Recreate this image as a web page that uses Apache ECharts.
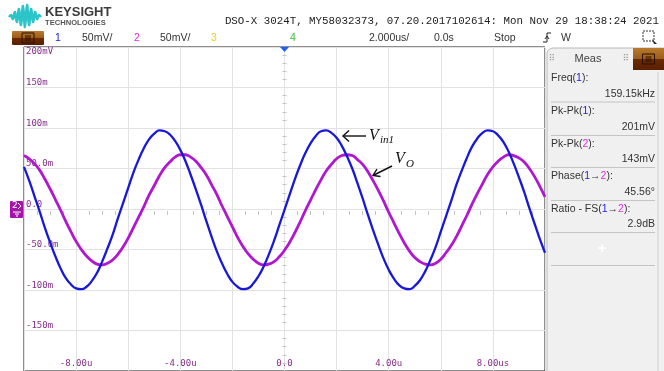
<!DOCTYPE html>
<html><head><meta charset="utf-8">
<script src="https://cdn.jsdelivr.net/npm/echarts@6/dist/echarts.min.js"></script>
<style>html,body{margin:0;padding:0;background:#fff;}#c{width:664px;height:371px;}</style>
</head><body><div id="c"></div>
<script>
// time in microseconds
const timeUs = [-10,-9.8,-9.6,-9.4,-9.2,-9,-8.8,-8.6,-8.4,-8.2,-8,-7.8,-7.6,-7.4,-7.2,-7,-6.8,-6.6,-6.4,-6.2,-6,-5.8,-5.6,-5.4,-5.2,-5,-4.8,-4.6,-4.4,-4.2,-4,-3.8,-3.6,-3.4,-3.2,-3,-2.8,-2.6,-2.4,-2.2,-2,-1.8,-1.6,-1.4,-1.2,-1,-0.8,-0.6,-0.4,-0.2,0,0.2,0.4,0.6,0.8,1,1.2,1.4,1.6,1.8,2,2.2,2.4,2.6,2.8,3,3.2,3.4,3.6,3.8,4,4.2,4.4,4.6,4.8,5,5.2,5.4,5.6,5.8,6,6.2,6.4,6.6,6.8,7,7.2,7.4,7.6,7.8,8,8.2,8.4,8.6,8.8,9,9.2,9.4,9.6,9.8,10];
// channel 1 (Vin1), mV
const vin1mV = [52,35,16,-3,-23,-41,-58,-73,-85,-93,-98,-99,-96,-89,-79,-65,-49,-32,-12,7,26,45,61,75,86,93,97,96,92,84,73,59,42,24,5,-15,-34,-52,-67,-80,-90,-96,-99,-98,-92,-83,-71,-56,-39,-20,-1,18,37,54,69,81,90,96,97,94,88,78,65,50,32,13,-7,-26,-44,-61,-75,-86,-94,-98,-99,-95,-88,-77,-63,-47,-28,-9,10,30,47,63,77,87,94,97,96,91,83,71,56,39,21,1,-18,-37,-54];
// channel 2 (VO), mV
const voutmV = [66,62,56,48,37,25,12,-1,-15,-28,-40,-50,-58,-64,-68,-69,-67,-63,-56,-47,-36,-23,-10,3,17,29,41,51,58,64,67,67,64,59,51,42,30,18,4,-9,-22,-35,-46,-55,-62,-67,-69,-68,-65,-59,-51,-41,-29,-16,-2,11,24,36,47,55,62,66,67,66,61,55,46,35,23,10,-4,-17,-30,-42,-52,-60,-65,-68,-69,-67,-62,-54,-45,-34,-21,-8,6,19,31,43,52,59,64,67,66,63,58,50,40,28,15];
const yTickValues = [-150,-100,-50,0,50,100,150,200];
const yTickLabels = ['-150m','-100m','-50.0m','0.0','50.0m','100m','150m','200mV'];
const xTickValues = [-8,-4,0,4,8];
const xTickLabels = ['-8.00u','-4.00u','0.0','4.00u','8.00us'];
const titleText = 'DSO-X 3024T, MY58032373, 07.20.2017102614: Mon Nov 29 18:38:24 2021';
const measLabels = ['{a|Freq(}{b|1}{a|):}','{a|Pk-Pk(}{b|1}{a|):}','{a|Pk-Pk(}{m|2}{a|):}','{a|Phase(}{b|1}{a|→}{m|2}{a|):}','{a|Ratio - FS(}{b|1}{a|→}{m|2}{a|):}'];
const measValues = ['159.15kHz','201mV','143mV','45.56°','2.9dB'];

const BLUE = '#1818d8', PURPLE = '#b018d0', LBL = '#86308a';
const chart = echarts.init(document.getElementById('c'), null, {renderer:'canvas'});

function brownButton(x, y, w, h, r) {
  return [
    {type:'rect', shape:{x:x,y:y,width:w,height:h,r:r}, style:{fill:{type:'linear',x:0,y:0,x2:0,y2:1,colorStops:[{offset:0,color:'#b87a2c'},{offset:0.5,color:'#9c5c1c'},{offset:0.5,color:'#6c2a00'},{offset:1,color:'#5a2000'}]}}, z:10},
    {type:'rect', shape:{x:x+w/2-6,y:y+h/2-5,width:12,height:10}, style:{fill:'none',stroke:'#2a1000',lineWidth:1}, z:11},
    {type:'line', shape:{x1:x+w/2-3,y1:y+h/2-2,x2:x+w/2+3,y2:y+h/2-2}, style:{stroke:'#2a1000',lineWidth:1}, z:11},
    {type:'line', shape:{x1:x+w/2-3,y1:y+h/2,x2:x+w/2+3,y2:y+h/2}, style:{stroke:'#2a1000',lineWidth:1}, z:11},
    {type:'line', shape:{x1:x+w/2-3,y1:y+h/2+2,x2:x+w/2+3,y2:y+h/2+2}, style:{stroke:'#2a1000',lineWidth:1}, z:11}
  ];
}
function txt(x, y, text, opt) {
  return {type:'text', x:x, y:y, z:12, style:Object.assign({text:text, fill:'#333', font:'10.5px "Liberation Sans"', textVerticalAlign:'middle', textAlign:'left'}, opt||{})};
}

const graphics = [];
// logo
graphics.push({type:'polyline', z:12, shape:{points:[[9,17],[11,15],[13,19],[15,12],[17,22],[19,9],[21,25],[23,6],[25,27],[27,5],[29,25],[31,9],[33,22],[35,12],[37,19],[39,15],[41,17]], smooth:0.3}, style:{stroke:'#2bc4c8', lineWidth:2.6, fill:'none'}});
graphics.push(txt(45, 12, 'KEYSIGHT', {font:'bold 13px "Liberation Sans"', fill:'#3c3c3c'}));
graphics.push(txt(45, 23, 'TECHNOLOGIES', {font:'bold 7.6px "Liberation Sans"', fill:'#555'}));
graphics.push(txt(659, 21, titleText, {font:'10.8px "Liberation Mono"', fill:'#222', textAlign:'right'}));
// second row
brownButton(12, 31, 32, 14, 1).forEach(g=>graphics.push(g));
graphics.push(txt(58, 38, '1', {fill:'#2020e0', textAlign:'center'}));
graphics.push(txt(82, 38, '50mV/'));
graphics.push(txt(137, 38, '2', {fill:'#e030e0', textAlign:'center'}));
graphics.push(txt(160, 38, '50mV/'));
graphics.push(txt(214, 38, '3', {fill:'#e8d020', textAlign:'center'}));
graphics.push(txt(293, 38, '4', {fill:'#30c030', textAlign:'center'}));
graphics.push(txt(369, 38, '2.000us/'));
graphics.push(txt(434, 38, '0.0s'));
graphics.push(txt(494, 38, 'Stop'));
graphics.push({type:'polyline', z:12, shape:{points:[[543,42],[547,42],[547,33],[551,33]]}, style:{stroke:'#222',lineWidth:1,fill:'none'}});
graphics.push({type:'polyline', z:12, shape:{points:[[545,39],[547,36],[549,39]]}, style:{stroke:'#222',lineWidth:1,fill:'none'}});
graphics.push(txt(561, 38, 'W'));
graphics.push({type:'rect', z:12, shape:{x:643,y:31,width:11,height:10}, style:{fill:'none',stroke:'#333',lineWidth:1,lineDash:[2,1]}});
graphics.push({type:'polygon', z:12, shape:{points:[[652,39],[657,44],[654,44]]}, style:{fill:'#222'}});
// trigger marker
graphics.push({type:'polygon', z:20, shape:{points:[[280,47],[289,47],[284.5,52]]}, style:{fill:'#1e5cff'}});
// ch2 ground marker
graphics.push({type:'rect', z:12, shape:{x:10,y:201,width:13,height:17,r:1}, style:{fill:'#a414aa'}});
graphics.push(txt(12, 206, '2', {fill:'#fff', font:'9px "DejaVu Sans"'}));
graphics.push({type:'polyline', z:13, shape:{points:[[18,203],[21,206],[18,209]]}, style:{stroke:'#fff',lineWidth:1,fill:'none'}});
graphics.push({type:'line', z:13, shape:{x1:13,y1:212,x2:21,y2:212}, style:{stroke:'#fff',lineWidth:1}});
graphics.push({type:'line', z:13, shape:{x1:15,y1:214,x2:19,y2:214}, style:{stroke:'#fff',lineWidth:1}});
graphics.push({type:'line', z:13, shape:{x1:16,y1:216,x2:18,y2:216}, style:{stroke:'#fff',lineWidth:1}});
// meas panel
graphics.push({type:'rect', z:5, shape:{x:547,y:48,width:125,height:330,r:[6,0,0,0]}, style:{fill:'#f0f0f0',stroke:'#b8b8b8',lineWidth:1}});
graphics.push({type:'line', z:6, shape:{x1:658,y1:72,x2:658,y2:371}, style:{stroke:'#d0d0d0',lineWidth:1}});
graphics.push(txt(588, 59, 'Meas', {textAlign:'center', font:'11px "Liberation Sans"', fill:'#444'}));
graphics.push(txt(552, 59, '⠿', {textAlign:'center', font:'9px "DejaVu Sans"', fill:'#999'}));
graphics.push(txt(626, 59, '⠿', {textAlign:'center', font:'9px "DejaVu Sans"', fill:'#999'}));
brownButton(633, 48, 31, 22, [0,0,0,0]).forEach(g=>graphics.push(g));
const seps = [102, 135.5, 167.5, 200.5, 232.5];
const labY = [78, 111, 144, 176.5, 209.5];
const rich = {a:{fill:'#333', font:'10.5px "Liberation Sans"'}, b:{fill:'#2020e0', font:'10.5px "Liberation Sans"'}, m:{fill:'#e030e0', font:'10.5px "Liberation Sans"'}};
for (let i = 0; i < measLabels.length; i++) {
  graphics.push({type:'text', x:551, y:labY[i], z:12, style:{text:measLabels[i], rich:rich, textVerticalAlign:'middle', textAlign:'left', font:'10.5px "Liberation Sans"'}});
  graphics.push(txt(655, seps[i]-8, measValues[i], {textAlign:'right'}));
  graphics.push({type:'line', z:12, shape:{x1:551,y1:seps[i],x2:655,y2:seps[i]}, style:{stroke:'#c4c4c4',lineWidth:1}});
}
graphics.push(txt(602, 249, '+', {textAlign:'center', font:'bold 14px "Liberation Sans"', fill:'#fff'}));
graphics.push({type:'line', z:12, shape:{x1:551,y1:265.5,x2:655,y2:265.5}, style:{stroke:'#c4c4c4',lineWidth:1}});
// annotations
graphics.push({type:'line', z:30, shape:{x1:366,y1:136,x2:343,y2:136}, style:{stroke:'#111',lineWidth:1.4}});
graphics.push({type:'polyline', z:30, shape:{points:[[349,130.5],[343,136],[349,141.5]]}, style:{stroke:'#111',lineWidth:1.4,fill:'none'}});
graphics.push(txt(369, 136, 'V', {font:'italic 16px "Liberation Serif"', fill:'#111'}));
graphics.push(txt(380, 140, 'in1', {font:'italic 11px "Liberation Serif"', fill:'#111'}));
graphics.push({type:'line', z:30, shape:{x1:392,y1:166,x2:374,y2:175}, style:{stroke:'#111',lineWidth:1.4}});
graphics.push({type:'polyline', z:30, shape:{points:[[377,169],[373,175.5],[380.5,176.5]]}, style:{stroke:'#111',lineWidth:1.4,fill:'none'}});
graphics.push(txt(395, 158.5, 'V', {font:'italic 16px "Liberation Serif"', fill:'#111'}));
graphics.push(txt(406, 164, 'O', {font:'italic 11px "Liberation Serif"', fill:'#111'}));

const labelFont = {fontFamily:'DejaVu Sans Mono', fontSize:9, color:LBL};
const option = {
  animation:false,
  backgroundColor:'#fff',
  grid:{left:24, top:47, right:119, bottom:0, show:true, borderColor:'#1a1a1a', borderWidth:1, backgroundColor:'#fff'},
  xAxis:[
    {type:'value', min:-10, max:10, interval:2, position:'bottom',
     axisLine:{show:false}, axisTick:{show:false},
     splitLine:{show:true, lineStyle:{color:'#e2e2e2', width:1}},
     axisLabel:Object.assign({inside:true, margin:3, formatter:v=>{const i=xTickValues.indexOf(v);return i>=0?xTickLabels[i]:'';}}, labelFont)},
    {type:'value', min:-10, max:10, interval:2, position:'bottom', offset:-164,
     axisLine:{show:false}, axisTick:{show:false}, axisLabel:{show:false}, splitLine:{show:false},
     minorTick:{show:true, splitNumber:4, length:4, lineStyle:{color:'#c4c4c4'}}}
  ],
  yAxis:[
    {type:'value', min:-200, max:200, interval:50,
     axisLine:{show:false}, axisTick:{show:false},
     splitLine:{show:true, lineStyle:{color:'#e2e2e2', width:1}},
     axisLabel:Object.assign({inside:true, margin:2, verticalAlign:'bottom', verticalAlignMaxLabel:'top', formatter:v=>{const i=yTickValues.indexOf(v);return i>=0?yTickLabels[i]:'';}}, labelFont)},
    {type:'value', min:-200, max:200, interval:50, position:'left', offset:-262.5,
     axisLine:{show:false}, axisTick:{show:false}, axisLabel:{show:false}, splitLine:{show:false},
     minorTick:{show:true, splitNumber:5, length:4, lineStyle:{color:'#c4c4c4'}}}
  ],
  series:[
    {type:'line', name:'VO', xAxisIndex:0, yAxisIndex:0, data:timeUs.map((t,i)=>[t, voutmV[i]]), showSymbol:false, smooth:true,
     lineStyle:{color:PURPLE, width:2.8}, z:3},
    {type:'line', name:'Vin1', xAxisIndex:0, yAxisIndex:0, data:timeUs.map((t,i)=>[t, vin1mV[i]]), showSymbol:false, smooth:true,
     lineStyle:{color:BLUE, width:2.3}, z:4}
  ],
  graphic:graphics
};
chart.setOption(option);
</script></body></html>
